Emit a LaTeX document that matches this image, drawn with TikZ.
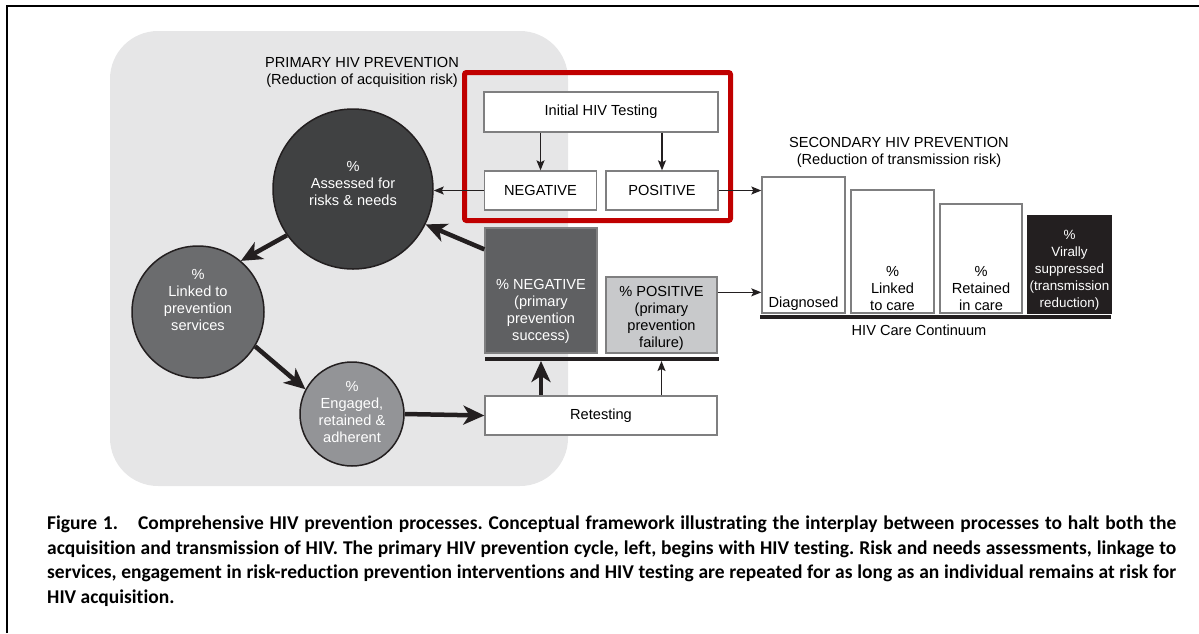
\documentclass[tikz,border=0pt]{standalone}
\usepackage{fontspec}
\setmainfont{Liberation Sans}
\newfontfamily\capfont[Ligatures=NoCommon]{Carlito}
\usetikzlibrary{arrows.meta,calc}
\definecolor{bggray}{HTML}{E6E6E7}
\definecolor{dark}{HTML}{231F20}
\definecolor{boxgray}{HTML}{7F7F80}
\definecolor{redframe}{HTML}{C00000}
\definecolor{asfill}{HTML}{404142}
\definecolor{lkfill}{HTML}{6B6C6E}
\definecolor{enfill}{HTML}{939497}
\definecolor{negfill}{HTML}{5F6062}
\definecolor{posfill}{HTML}{C8C9CB}
\newcommand\dfont{\fontsize{14.6pt}{17pt}\selectfont}
\frenchspacing
\begin{document}
\begin{tikzpicture}[x=1pt,y=-1pt,
  box/.style={draw=boxgray,line width=1.3pt,fill=white,inner sep=0pt,font=\dfont,align=center},
  circ/.style={circle,draw=dark,line width=1.5pt,inner sep=0pt},
  ctext/.style={text=white,font=\dfont,align=center,inner sep=0pt},
  ltext/.style={font=\dfont,align=center,inner sep=0pt},
  thinarr/.style={draw=dark,line width=1.3pt,-{Stealth[length=10pt,width=8pt,inset=2pt]}},
  thickarr/.style={draw=dark,line width=4.5pt,-{Stealth[length=21pt,width=19pt,inset=6pt]}},
  heavybar/.style={draw=dark,line width=4.5pt}
]
\useasboundingbox (0,0) rectangle (1199,633);
% frame
\draw[line width=2pt,black] (7,633) -- (7,6) -- (1199,6);
% grey background
\fill[bggray,rounded corners=48pt] (110,31) rectangle (568,486);
% titles
\node[ltext] (ptitle) at (362,72) {PRIMARY HIV PREVENTION\\(Reduction of acquisition risk)};
\node[ltext] (stitle) at (899,152) {SECONDARY HIV PREVENTION\\(Reduction of transmission risk)};
% red frame
\draw[redframe,line width=5pt,rounded corners=2pt] (464.5,72.5) rectangle (730.5,220.5);
% testing boxes
\node[box,minimum width=234pt,minimum height=40pt] (init) at (601,112) {Initial HIV Testing};
\node[box,minimum width=112pt,minimum height=39pt] (neg) at (540.5,190.5) {NEGATIVE};
\node[box,minimum width=112pt,minimum height=39pt] (pos) at (662,190.5) {POSITIVE};
\draw[thinarr] (init.south -| neg) -- (neg.north);
\draw[thinarr] (init.south -| pos) -- (pos.north);
% circles
\node[circ,fill=asfill,minimum size=160pt] (as) at (353,189) {};
\node[ctext] (astext) at ([yshift=6pt]as.center) {\%\\Assessed for\\risks \& needs};
\node[circ,fill=lkfill,minimum size=132pt] (lk) at (198,312) {};
\node[ctext] (lktext) at ([yshift=12pt]lk.center) {\%\\Linked to\\prevention\\services};
\node[circ,fill=enfill,minimum size=104pt] (en) at (352,414) {};
\node[ctext] (entext) at ([yshift=2pt]en.center) {\%\\Engaged,\\retained \&\\adherent};
% result boxes
\node[box,fill=negfill,minimum width=112pt,minimum height=125pt] (negbox) at (541,290.5) {};
\node[ctext] (negtext) at (541,311) {\% NEGATIVE\\(primary\\prevention\\success)};
\node[box,fill=posfill,minimum width=111pt,minimum height=76pt] (posbox) at (661.5,315) {};
\node[ltext] (postext) at (661.5,318) {\% POSITIVE\\(primary\\prevention\\failure)};
\coordinate (barL) at (485,359);
\coordinate (barR) at (719,359);
\draw[heavybar] (barL) -- (barR);
\node[box,minimum width=232pt,minimum height=39pt] (ret) at (601,415.5) {Retesting};
% cycle arrows
\draw[thickarr] (as.215) -- (lk.50);
\draw[thickarr] (lk.-31) -- (en.152);
\draw[thickarr] (en.east) -- (ret.west);
\draw[thickarr] (ret.north -| negbox) -- ([yshift=-2pt]barL -| negbox);
\draw[thinarr] (ret.north -| posbox) -- ([yshift=-2pt]barL -| posbox);
\draw[thickarr] ([yshift=-22pt]negbox.north west) -- (as.-26);
\draw[thinarr] (neg.west) -- (neg.west -| as.east);
% care continuum
\node[box,minimum width=83pt,minimum height=136pt] (diag) at (803.5,245) {};
\node[box,minimum width=83pt,minimum height=123pt] (link) at (892.5,251.5) {};
\node[box,minimum width=82pt,minimum height=109pt] (reta) at (981,258.5) {};
\node[box,draw=dark,fill=dark,minimum width=83pt,minimum height=97pt] (vir) at (1069.5,264.5) {};
\node[ltext,anchor=south] (diagtext) at ([yshift=3pt]diag.south) {Diagnosed};
\node[ltext,anchor=south] (linktext) at ([yshift=3pt]link.south) {\%\\Linked\\to care};
\node[ltext,anchor=south] (rettext) at ([yshift=3pt]reta.south) {\%\\Retained\\in care};
\node[ctext,anchor=south,font=\fontsize{13.4pt}{17pt}\selectfont] (virtext) at ([yshift=3pt]vir.south) {\%\\Virally\\suppressed\\(transmission\\reduction)};
\coordinate (cbL) at (760,317);
\coordinate (cbR) at (1111,317);
\draw[heavybar] (cbL) -- (cbR);
\node[ltext] (cctext) at (919,330) {HIV Care Continuum};
\draw[thinarr] (pos.east) -- (pos.east -| diag.west);
\draw[thinarr] ([yshift=-16pt]posbox.north east) -- ([yshift=-16pt]posbox.north east -| diag.west);
% caption
\node[anchor=north west,inner sep=0pt,text width=1129pt,align=justify,
  font={\capfont\bfseries\fontsize{19.5pt}{24.5pt}\selectfont}] (cap) at (47,516)
{Figure 1.\hspace*{20pt}Comprehensive HIV prevention processes. Conceptual framework illustrating the interplay between processes to halt both the\linebreak
acquisition and transmission of HIV. The primary HIV prevention cycle, left, begins with HIV testing. Risk and needs assessments, linkage to\linebreak
services, engagement in risk-reduction prevention interventions and HIV testing are repeated for as long as an individual remains at risk for\linebreak
HIV acquisition.};
\end{tikzpicture}
\end{document}
